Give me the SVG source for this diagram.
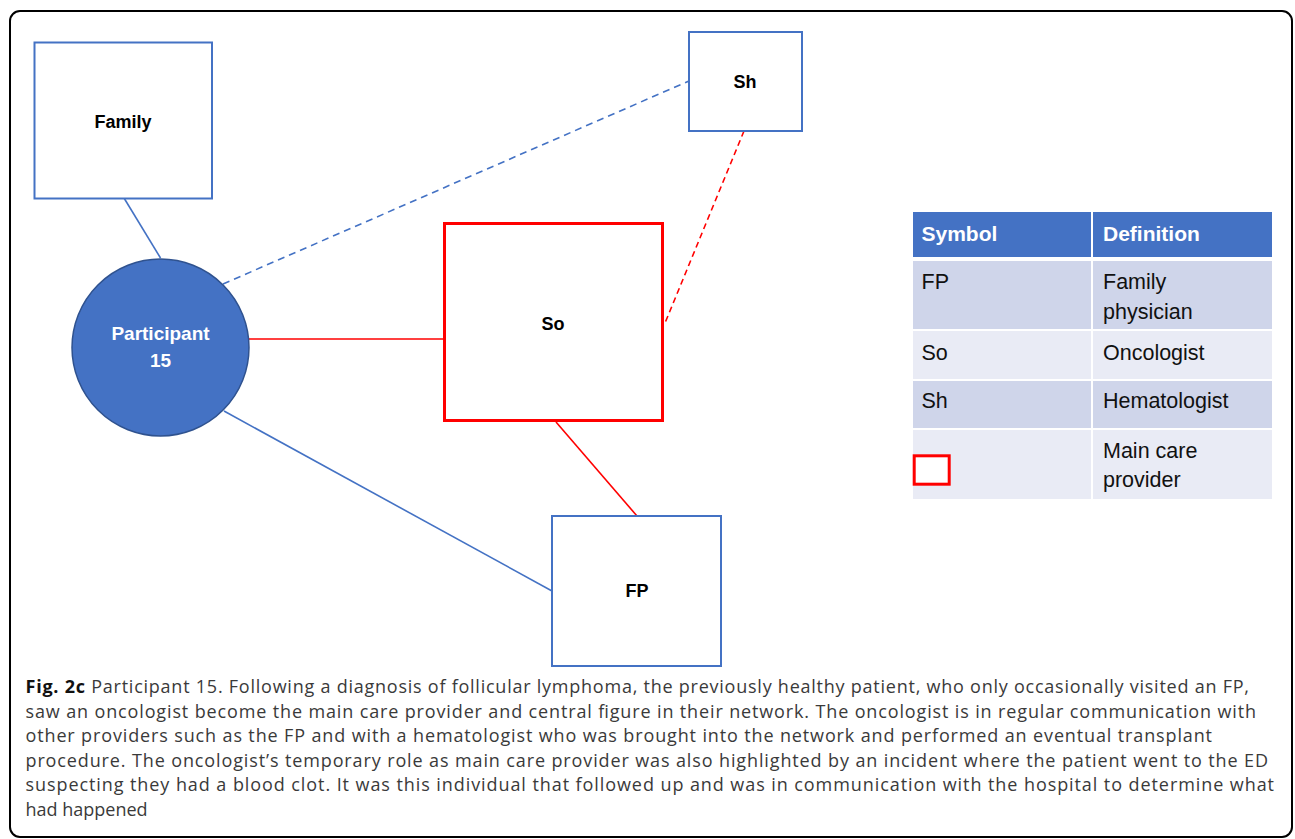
<svg xmlns="http://www.w3.org/2000/svg" width="1295" height="839" viewBox="0 0 1295 839">
<style>
.bx{fill:#fff;stroke:#4472C4;stroke-width:2}
.main{fill:#fff;stroke:#FF0000;stroke-width:3}
.lbl{font-family:"Liberation Sans",Arial,sans-serif;font-weight:bold;font-size:18px;fill:#000;text-anchor:middle}
.cl{font-family:"Liberation Sans",Arial,sans-serif;font-weight:bold;font-size:19px;fill:#fff;text-anchor:middle}
.blue{stroke:#4472C4;stroke-width:1.6;fill:none}
.red{stroke:#FF0000;stroke-width:1.6;fill:none}
.dash{stroke-dasharray:7 5}
.dashr{stroke-dasharray:6 4}
.th{font-family:"Liberation Sans",Arial,sans-serif;font-weight:bold;font-size:21px;fill:#fff}
.td{font-family:"Liberation Sans",Arial,sans-serif;font-size:21.5px;fill:#111}
.cap{font-family:"Open Sans","Liberation Sans",sans-serif;font-size:18px;fill:#3a3a3a}
.capb{font-weight:bold;fill:#111}
</style>
<rect x="10" y="11" width="1282" height="826" rx="10" fill="#fff" stroke="#000" stroke-width="2"/>
<g id="connectors">
<line class="blue" x1="124" y1="198" x2="160.5" y2="258"/>
<line class="blue dash" x1="223" y1="284" x2="689" y2="81"/>
<line class="red" x1="249" y1="339" x2="443" y2="339"/>
<line class="blue" x1="224" y1="411" x2="552" y2="591"/>
<line class="red" x1="556" y1="422" x2="637" y2="516"/>
<line class="red dashr" x1="744" y1="131" x2="665" y2="323"/>
</g>
<g id="family">
<rect class="bx" x="34.5" y="42.5" width="177.5" height="156"/>
<text class="lbl" x="123" y="128">Family</text>
</g>
<g id="participant">
<circle cx="160.5" cy="347.5" r="88.5" fill="#4472C4" stroke="#2F528F" stroke-width="1.5"/>
<text class="cl" x="160.5" y="340">Participant</text>
<text class="cl" x="160.5" y="367">15</text>
</g>
<g id="sh">
<rect class="bx" x="689" y="32" width="113" height="99"/>
<text class="lbl" x="745" y="88">Sh</text>
</g>
<g id="so">
<rect class="main" x="444.5" y="223.5" width="218" height="197"/>
<text class="lbl" x="553" y="330">So</text>
</g>
<g id="fp">
<rect class="bx" x="552" y="516" width="169" height="150"/>
<text class="lbl" x="637" y="597">FP</text>
</g>
<g id="legend">
<rect x="913" y="212" width="178" height="45" fill="#4472C4"/>
<rect x="1093" y="212" width="179" height="45" fill="#4472C4"/>
<rect x="913" y="261" width="178" height="68" fill="#CFD5EA"/>
<rect x="1093" y="261" width="179" height="68" fill="#CFD5EA"/>
<rect x="913" y="331" width="178" height="48" fill="#E9EBF5"/>
<rect x="1093" y="331" width="179" height="48" fill="#E9EBF5"/>
<rect x="913" y="381" width="178" height="47" fill="#CFD5EA"/>
<rect x="1093" y="381" width="179" height="47" fill="#CFD5EA"/>
<rect x="913" y="430" width="178" height="69" fill="#E9EBF5"/>
<rect x="1093" y="430" width="179" height="69" fill="#E9EBF5"/>
<text class="th" x="921.5" y="241">Symbol</text>
<text class="th" x="1103" y="241">Definition</text>
<text class="td" x="921.5" y="289">FP</text>
<text class="td" x="1103" y="289">Family</text>
<text class="td" x="1103" y="319">physician</text>
<text class="td" x="921.5" y="360">So</text>
<text class="td" x="1103" y="360">Oncologist</text>
<text class="td" x="921.5" y="408">Sh</text>
<text class="td" x="1103" y="408">Hematologist</text>
<text class="td" x="1103" y="458">Main care</text>
<text class="td" x="1103" y="487">provider</text>
<rect class="main" x="914.2" y="455.8" width="35" height="28.4"/>
</g>
<g id="caption">
<text class="cap" x="25.5" y="693" textLength="1223.5" lengthAdjust="spacing"><tspan class="capb">Fig. 2c</tspan> Participant 15. Following a diagnosis of follicular lymphoma, the previously healthy patient, who only occasionally visited an FP,</text>
<text class="cap" x="25.5" y="717.5" textLength="1230.5" lengthAdjust="spacing">saw an oncologist become the main care provider and central figure in their network. The oncologist is in regular communication with</text>
<text class="cap" x="25.5" y="742" textLength="1186.5" lengthAdjust="spacing">other providers such as the FP and with a hematologist who was brought into the network and performed an eventual transplant</text>
<text class="cap" x="25.5" y="766.5" textLength="1242.5" lengthAdjust="spacing">procedure. The oncologist’s temporary role as main care provider was also highlighted by an incident where the patient went to the ED</text>
<text class="cap" x="25.5" y="791" textLength="1248.5" lengthAdjust="spacing">suspecting they had a blood clot. It was this individual that followed up and was in communication with the hospital to determine what</text>
<text class="cap" x="25.5" y="815.5">had happened</text>
</g>
</svg>
